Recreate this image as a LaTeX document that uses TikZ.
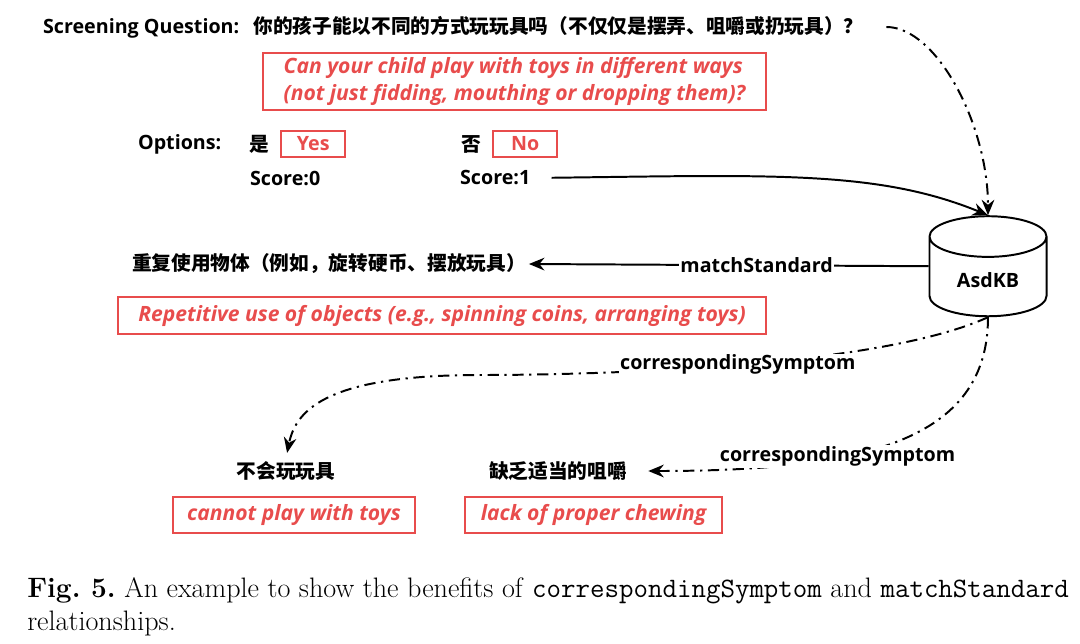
\documentclass[tikz,border=0pt]{standalone}
\usepackage{fontspec}
\usepackage{tikz}
\usetikzlibrary{arrows.meta, positioning, shapes.geometric}
\newfontfamily\lab{Open Sans}
\newfontfamily\cjk{Noto Sans CJK SC}
\definecolor{ask-red}{RGB}{232, 76, 76}

\begin{document}
\begin{tikzpicture}[x=0.025cm, y=-0.025cm,
    txt/.style={font=\lab\fontsize{14}{17}\selectfont\bfseries, inner sep=2pt},
    zh/.style={font=\cjk\fontsize{14}{17}\selectfont\bfseries, inner sep=2pt},
    redbox/.style={draw=ask-red, line width=1.1pt, text=ask-red, align=left,
                   font=\lab\fontsize{15}{19}\selectfont\bfseries\itshape,
                   inner xsep=6pt, inner ysep=3pt},
    optbox/.style={draw=ask-red, line width=1.1pt, text=ask-red,
                   font=\lab\fontsize{14}{17}\selectfont\bfseries,
                   minimum width=1.6cm, minimum height=0.65cm, inner sep=0pt},
    lbl/.style={txt, fill=white, inner sep=1pt},
    arr/.style={-{Stealth[length=11pt, width=9pt]}, line width=1.4pt},
    dd/.style={arr, dash pattern=on 8pt off 4pt on 1.6pt off 4pt}
  ]
  \useasboundingbox (0,0) rectangle (1080,644);

  % question and its options
  \node[txt, anchor=west] (q) at (40,27) {Screening Question:\hspace{10pt}{\cjk 你的孩子能以不同的方式玩玩具吗（不仅仅是摆弄、咀嚼或扔玩具）？}};
  \node[redbox, minimum width=12.575cm, minimum height=1.425cm] (enq) at (514.5,81.5)
    {Can your child play with toys in different ways\\(not just fidding, mouthing or dropping them)?};
  \node[txt, anchor=west] (opt) at (135,144) {Options:};
  \node[zh] (shi) at (259,144) {是};
  \node[optbox, right=6pt of shi] (yes) {Yes};
  \node[zh] (fou) at (471,144) {否};
  \node[optbox, right=6pt of fou] (no) {No};
  \node[txt, anchor=west] (s0) at (247,178) {Score:0};
  \node[txt, anchor=west] (s1) at (457,178) {Score:1};

  % knowledge base
  \node[cylinder, shape border rotate=90, shape aspect=0.6, draw, line width=1.4pt,
        minimum width=2.925cm, minimum height=2.5cm, txt] (kb) at (988,280) {AsdKB};

  % standard and symptoms
  \node[zh, anchor=west] (rep) at (129,264) {重复使用物体（例如，旋转硬币、摆放玩具）};
  \node[redbox, minimum width=16.2cm, minimum height=0.925cm] (enrep) at (442,315.5)
    {Repetitive use of objects (e.g., spinning coins, arranging toys)};
  \node[zh] (nc) at (286,471) {不会玩玩具};
  \node[redbox, minimum width=6.05cm, minimum height=0.9cm] (ennc) at (294,515) {cannot play with toys};
  \node[zh] (lack) at (558,471) {缺乏适当的咀嚼};
  \node[redbox, minimum width=6.425cm, minimum height=0.9cm] (enlack) at (593.5,515) {lack of proper chewing};

  \draw[dd, shorten <=14pt] (q.east) .. controls +(70,0) and +(0,-90) .. (kb.north);
  \draw[arr, shorten <=13pt] (s1.east) .. controls +(240,-3) and +(-110,-45) .. (kb.north);
  \draw[arr] (kb.shape center -| kb.west) -- node[lbl, pos=0.43] {matchStandard} (rep.east);
  \draw[dd, shorten >=4pt] (kb.south) .. controls +(-110,50) and +(120,0)
    .. node[lbl, pos=0.5] {correspondingSymptom} (480,375)
    .. controls +(-150,0) and +(10,-50) .. (nc.north);
  \draw[dd, shorten >=13pt] (kb.south) .. controls +(0,125) and +(230,0)
    .. node[lbl, pos=0.64] {correspondingSymptom} (lack.east);

  % caption
  \node[anchor=north west, align=left, inner sep=0pt, font=\fontsize{20}{23.5}\selectfont\frenchspacing] (cap) at (27,577)
    {\textbf{Fig.\ 5.} An example to show the benefits of \texttt{correspondingSymptom} and \texttt{matchStandard}\\relationships.};
\end{tikzpicture}
\end{document}
